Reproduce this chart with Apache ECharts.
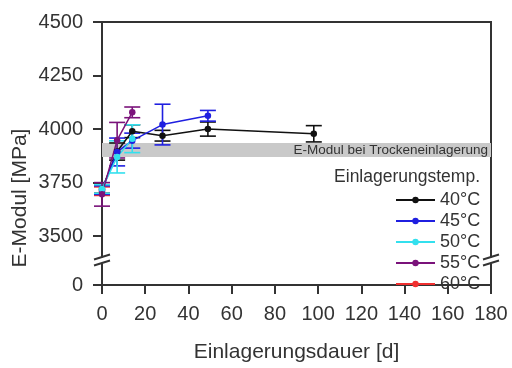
<!DOCTYPE html>
<html>
<head>
<meta charset="utf-8">
<script src="https://cdn.jsdelivr.net/npm/echarts@6/dist/echarts.min.js"></script>
<style>
  html, body { margin: 0; padding: 0; background: #fff; }
  #chart { width: 512px; height: 368px; }
</style>
</head>
<body>
<div id="chart"></div>
<script>
// Storage duration [d] and Young's modulus [MPa] with standard deviation per storage temperature
const days40 = [0, 7, 14, 28, 49, 98];
const emod40 = [3720, 3895, 3990, 3969, 4000, 3978];
const err40  = [20, 40, 30, 25, 33, 38];

const days45 = [0, 7, 14, 28, 49];
const emod45 = [3715, 3893, 3946, 4021, 4062];
const err45  = [20, 65, 35, 95, 25];

const days50 = [0, 7, 14];
const emod50 = [3720, 3870, 3955];
const err50  = [20, 75, 65];

const days55 = [0, 7, 14];
const emod55 = [3695, 3948, 4078];
const err55  = [55, 83, 25];

const days60 = [0];
const emod60 = [3710];
const err60  = [20];

const seriesNames  = ['40°C', '45°C', '50°C', '55°C', '60°C'];
const seriesColors = ['#111111', '#1f1fe0', '#33e0ee', '#7a127a', '#f03030'];

// Reference band: modulus after dry storage
const dryBand  = [3870, 3935];
const dryLabel = 'E-Modul bei Trockeneinlagerung';

const xTicks = [0, 20, 40, 60, 80, 100, 120, 140, 160, 180];
const yTicks = [0, 3500, 3750, 4000, 4250, 4500];

const groups = [
  [days60, emod60, err60],
  [days40, emod40, err40],
  [days45, emod45, err45],
  [days50, emod50, err50],
  [days55, emod55, err55]
];
const groupIdx = [4, 0, 1, 2, 3];

const FONT = '"Liberation Sans", Arial, sans-serif';
const AX = '#333333';

const chart = echarts.init(document.getElementById('chart'), null, { renderer: 'canvas' });

function errorBarSeries(color, pts) {
  return {
    type: 'custom',
    silent: true,
    z: 3,
    data: pts,
    renderItem: function (params, api) {
      const x = api.value(0), y = api.value(1), e = api.value(2);
      const top = api.coord([x, y + e]);
      const bot = api.coord([x, y - e]);
      const hw = 8;
      const st = { stroke: color, lineWidth: 1.6 };
      return {
        type: 'group',
        children: [
          { type: 'line', shape: { x1: top[0], y1: top[1], x2: bot[0], y2: bot[1] }, style: st },
          { type: 'line', shape: { x1: top[0] - hw, y1: top[1], x2: top[0] + hw, y2: top[1] }, style: st },
          { type: 'line', shape: { x1: bot[0] - hw, y1: bot[1], x2: bot[0] + hw, y2: bot[1] }, style: st }
        ]
      };
    }
  };
}

const series = [{
  name: 'band',
  type: 'line',
  data: [],
  silent: true,
  markArea: {
    silent: true,
    itemStyle: { color: '#c9c9c9' },
    label: {
      show: true,
      position: 'insideRight',
      distance: 3,
      color: '#333',
      fontFamily: FONT,
      fontSize: 13.5
    },
    data: [[{ yAxis: dryBand[0], name: dryLabel }, { yAxis: dryBand[1] }]]
  }
}];

groups.forEach(function (g, k) {
  const i = groupIdx[k];
  const pts = g[0].map(function (d, j) { return [d, g[1][j], g[2][j]]; });
  series.push(errorBarSeries(seriesColors[i], pts));
  series.push({
    name: seriesNames[i],
    type: 'line',
    z: 4,
    data: g[0].map(function (d, j) { return [d, g[1][j]]; }),
    symbol: 'circle',
    symbolSize: 6.5,
    lineStyle: { color: seriesColors[i], width: 1.5 },
    itemStyle: { color: seriesColors[i] }
  });
});

chart.setOption({
  animation: false,
  backgroundColor: '#fff',
  grid: { left: 102, right: 21, top: 22, bottom: 69, show: true, borderColor: AX, borderWidth: 2, backgroundColor: 'transparent' },
  legend: {
    data: seriesNames,
    orient: 'vertical',
    left: 390,
    top: 186,
    itemWidth: 39,
    itemHeight: 8,
    itemGap: 3,
    selectedMode: false,
    textStyle: { fontFamily: FONT, fontSize: 18, color: '#333', lineHeight: 18 }
  },
  xAxis: {
    type: 'value',
    min: 0, max: 180, interval: 20,
    axisLine: { show: true, lineStyle: { color: AX, width: 2 } },
    axisTick: { show: true, length: 9, inside: false, lineStyle: { color: AX, width: 2 }, customValues: xTicks },
    axisLabel: { margin: 19, fontFamily: FONT, fontSize: 20, color: '#333', customValues: xTicks, formatter: function (v) { return String(v); } },
    splitLine: { show: false },
    name: 'Einlagerungsdauer [d]',
    nameLocation: 'middle',
    nameGap: 57,
    nameTextStyle: { fontFamily: FONT, fontSize: 21, color: '#333' }
  },
  yAxis: {
    type: 'value',
    min: 0, max: 4500, interval: 250,
    breaks: [{ start: 100, end: 3400, gap: '2.3%' }],
    breakArea: { show: false },
    axisLine: { show: true, lineStyle: { color: AX, width: 2 } },
    axisTick: { show: true, length: 9, inside: false, lineStyle: { color: AX, width: 2 }, customValues: yTicks },
    axisLabel: { margin: 19, fontFamily: FONT, fontSize: 20, color: '#333', customValues: yTicks, formatter: function (v) { return String(v); } },
    splitLine: { show: false }
  },
  series: series
});

// Axis title, legend heading and axis-break marks
const y0 = chart.convertToPixel({ yAxisIndex: 0 }, 0);
const y1 = chart.convertToPixel({ yAxisIndex: 0 }, 3500);
const yMid = (y0 + y1) / 2;
const xL = chart.convertToPixel({ xAxisIndex: 0 }, 0);
const xR = chart.convertToPixel({ xAxisIndex: 0 }, 180);

function breakMark(cx) {
  return [
    { type: 'rect', shape: { x: cx - 3, y: yMid - 3, width: 6, height: 6 }, style: { fill: '#fff' }, z: 100 },
    { type: 'line', shape: { x1: cx - 8, y1: yMid - 1, x2: cx + 8, y2: yMid - 6 }, style: { stroke: AX, lineWidth: 2 }, z: 101 },
    { type: 'line', shape: { x1: cx - 8, y1: yMid + 5, x2: cx + 8, y2: yMid }, style: { stroke: AX, lineWidth: 2 }, z: 101 }
  ];
}

chart.setOption({
  graphic: [
    {
      type: 'text',
      x: 20, y: 198,
      rotation: Math.PI / 2,
      style: { text: 'E-Modul [MPa]', font: '21px ' + FONT, fill: '#333', textAlign: 'center', textVerticalAlign: 'middle' }
    },
    {
      type: 'text',
      x: 480, y: 177,
      style: { text: 'Einlagerungstemp.', font: '17.5px ' + FONT, fill: '#333', textAlign: 'right', textVerticalAlign: 'middle' }
    }
  ].concat(breakMark(xL)).concat(breakMark(xR))
});
</script>
</body>
</html>
